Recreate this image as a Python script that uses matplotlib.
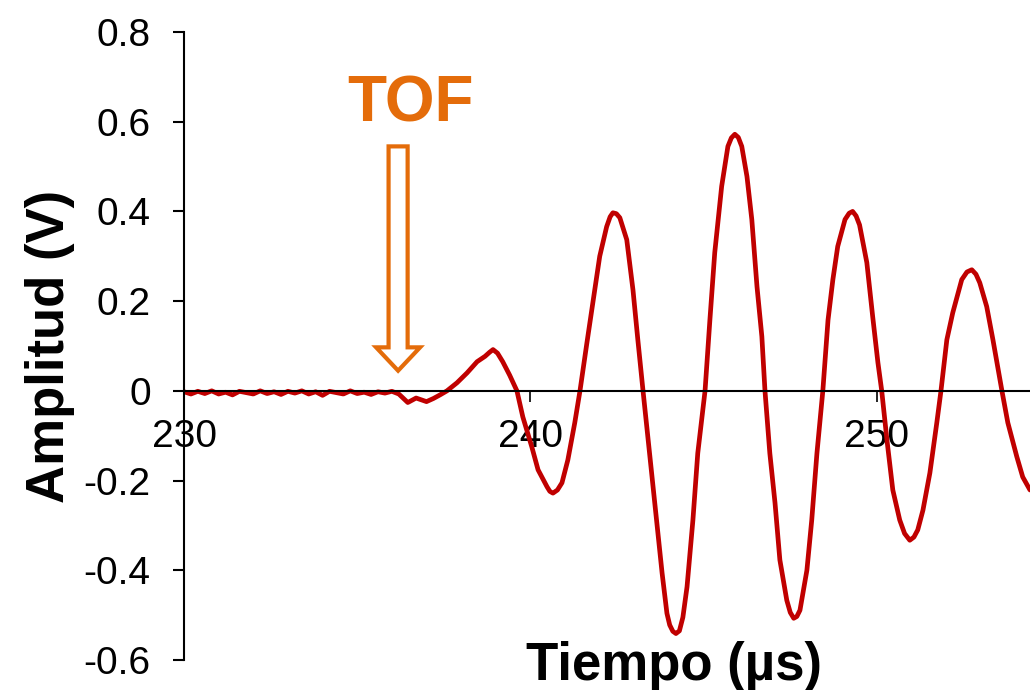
import matplotlib.pyplot as plt
from matplotlib.patches import FancyArrow

plt.rcParams['font.family'] = ['Liberation Sans', 'DejaVu Sans']

# received signal, time in microseconds and amplitude in volts
time_us = [230.0, 230.2, 230.4, 230.6, 230.8, 231.0, 231.2, 231.4, 231.6, 231.8,
           232.0, 232.2, 232.4, 232.6, 232.8, 233.0, 233.2, 233.4, 233.6, 233.8,
           234.0, 234.2, 234.4, 234.6, 234.8, 235.0, 235.2, 235.4, 235.6, 235.8,
           236.0, 236.2, 236.46, 236.7, 237.0, 237.2, 237.39, 237.59, 237.88,
           238.17, 238.46, 238.69, 238.82, 238.92, 239.05, 239.2, 239.4, 239.61,
           239.78, 240.04, 240.22, 240.48, 240.56, 240.65, 240.78, 240.91, 241.08,
           241.28, 241.43, 241.63, 241.8, 242.0, 242.2, 242.3, 242.38, 242.48,
           242.58, 242.78, 242.96, 243.1, 243.25, 243.45, 243.65, 243.8, 243.94,
           244.02, 244.11, 244.2, 244.3, 244.4, 244.52, 244.69, 244.83, 245.04,
           245.18, 245.32, 245.52, 245.7, 245.8, 245.9, 246.0, 246.1, 246.25,
           246.39, 246.54, 246.68, 246.77, 246.91, 247.06, 247.2, 247.4, 247.5,
           247.6, 247.69, 247.78, 247.98, 248.12, 248.27, 248.44, 248.59, 248.73,
           248.87, 249.08, 249.2, 249.3, 249.4, 249.5, 249.71, 249.88, 250.03,
           250.14, 250.29, 250.46, 250.66, 250.8, 250.95, 251.07, 251.18, 251.33,
           251.53, 251.73, 251.85, 252.02, 252.19, 252.45, 252.6, 252.74, 252.86,
           252.97, 253.17, 253.35, 253.61, 253.78, 254.04, 254.21, 254.42]
amplitude_v = [-0.002, -0.007, -0.001, -0.006, 0.000, -0.007, -0.003, -0.009, -0.001, -0.004,
               -0.007, 0.000, -0.006, -0.002, -0.008, -0.001, -0.005, 0.000, -0.007, -0.002,
               -0.010, -0.001, -0.004, -0.007, 0.000, -0.006, -0.003, -0.008, -0.002, -0.005,
               -0.001, -0.007, -0.026, -0.016, -0.024, -0.017, -0.009, 0.000, 0.018,
               0.040, 0.065, 0.077, 0.086, 0.092, 0.084, 0.065, 0.035, 0.000,
               -0.058, -0.125, -0.176, -0.214, -0.224, -0.228, -0.221, -0.205, -0.154,
               -0.071, 0.000, 0.107, 0.196, 0.300, 0.366, 0.388, 0.397, 0.395,
               0.386, 0.337, 0.225, 0.114, 0.000, -0.147, -0.295, -0.406, -0.496,
               -0.522, -0.536, -0.541, -0.535, -0.505, -0.437, -0.288, -0.139, 0.000,
               0.158, 0.308, 0.456, 0.545, 0.564, 0.572, 0.565, 0.545, 0.478,
               0.382, 0.232, 0.121, 0.000, -0.139, -0.250, -0.377, -0.467, -0.494,
               -0.507, -0.503, -0.489, -0.400, -0.288, -0.139, 0.000, 0.158, 0.248,
               0.322, 0.382, 0.396, 0.400, 0.390, 0.370, 0.286, 0.165, 0.063,
               0.000, -0.109, -0.221, -0.288, -0.318, -0.333, -0.326, -0.310, -0.266,
               -0.183, -0.071, 0.000, 0.114, 0.174, 0.248, 0.265, 0.270, 0.260,
               0.241, 0.188, 0.114, 0.000, -0.071, -0.147, -0.192, -0.221]

y_ticks = [-0.6, -0.4, -0.2, 0, 0.2, 0.4, 0.6, 0.8]
y_tick_labels = ['-0.6', '-0.4', '-0.2', '0', '0.2', '0.4', '0.6', '0.8']
x_ticks = [230, 240, 250]
x_tick_labels = ['230', '240', '250']

# time of flight marker
tof_time = 236.18
tof_top = 0.545
tof_tip = 0.045

line_color = '#C00000'
tof_color = '#E46C0A'

fig = plt.figure(figsize=(10.3, 6.9), dpi=100)
ax = fig.add_axes([184 / 1030, 1 - 660 / 690, 1 - 184 / 1030, 628 / 690])

ax.plot(time_us, amplitude_v, color=line_color, lw=3.4,
        solid_joinstyle='round', solid_capstyle='round')

ax.set_xlim(230, 254.42)
ax.set_ylim(-0.6, 0.8)

# axis line crosses at zero, no box
ax.spines['top'].set_visible(False)
ax.spines['right'].set_visible(False)
ax.spines['bottom'].set_position(('data', 0))
ax.spines['bottom'].set_linewidth(1.5)
ax.spines['left'].set_linewidth(1.5)

ax.set_yticks(y_ticks)
ax.set_yticklabels(y_tick_labels, fontsize=28)
ax.set_xticks(x_ticks)
ax.set_xticklabels(x_tick_labels, fontsize=28)
ax.tick_params(axis='y', direction='out', length=8, width=1.5, pad=16)
ax.tick_params(axis='x', direction='out', length=8, width=1.2, pad=12)

fig.text(50 / 1030, 1 - 346 / 690, 'Amplitud (V)', rotation=90,
         fontsize=38, fontweight='bold', ha='center', va='center')
fig.text(673.5 / 1030, 1 - 680 / 690, 'Tiempo (µs)', fontsize=38, fontweight='bold',
         ha='center', va='baseline')

# TOF label and hollow arrow
ax.text(236.54, 0.60, 'TOF', color=tof_color, fontsize=46, fontweight='bold',
        ha='center', va='baseline')
arrow = FancyArrow(tof_time, tof_top, 0, tof_tip - tof_top, width=0.55,
                   head_width=1.27, head_length=0.052, length_includes_head=True,
                   fc='white', ec=tof_color, lw=3)
ax.add_patch(arrow)

plt.savefig('out.png', dpi=100)
